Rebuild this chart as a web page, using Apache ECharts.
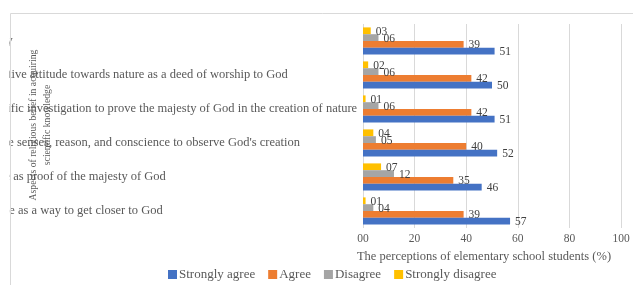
<!DOCTYPE html>
<html>
<head>
<meta charset="utf-8">
<script src="https://cdn.jsdelivr.net/npm/echarts@6/dist/echarts.min.js"></script>
<style>
  html, body { margin: 0; padding: 0; background: #fff; }
  #main { width: 633px; height: 285px; }
</style>
</head>
<body>
<div id="main"></div>
<script>
  // categories listed from bottom to top (order of the y axis)
  var categories = [
    'Science as a way to get closer to God',
    'Nature as proof of the majesty of God',
    "Use the senses, reason, and conscience to observe God's creation",
    'Scientific investigation to prove the majesty of God in the creation of nature',
    'Protective attitude towards nature as a deed of worship to God',
    'Inquiry'
  ];
  var seriesNames = ['Strongly agree', 'Agree', 'Disagree', 'Strongly disagree'];
  var stronglyAgree = [57, 46, 52, 51, 50, 51];
  var agree = [39, 35, 40, 42, 42, 39];
  var disagree = [4, 12, 5, 6, 6, 6];
  var stronglyDisagree = [1, 7, 4, 1, 2, 3];
  var xTicks = [0, 20, 40, 60, 80, 100];
  var colors = ['#4472C4', '#ED7D31', '#A5A5A5', '#FFC000'];

  var font = '"Liberation Serif", "DejaVu Serif", serif';
  function pad2(v) { return (v < 10 ? '0' : '') + v; }

  var myChart = echarts.init(document.getElementById('main'));

  function makeSeries(name, data, i) {
    return {
      name: name,
      type: 'bar',
      data: data,
      barGap: '0%',
      barCategoryGap: '20%',
      itemStyle: { color: colors[i] },
      label: {
        show: true,
        position: 'right',
        distance: 5,
        offset: [0, 1],
        color: '#404040',
        fontFamily: font,
        fontSize: 11.5,
        formatter: function (p) { return pad2(p.value); }
      }
    };
  }

  myChart.setOption({
    animation: false,
    color: colors,
    grid: { left: 363, right: 12, top: 24, bottom: 57, containLabel: false, outerBoundsMode: 'none' },
    legend: {
      data: seriesNames,
      left: 168,
      top: 268,
      padding: 0,
      itemWidth: 9,
      itemHeight: 9,
      itemGap: 13,
      icon: 'rect',
      textStyle: { color: '#595959', fontFamily: font, fontSize: 13, padding: [0, 0, 0, -3] }
    },
    xAxis: {
      type: 'value',
      min: 0,
      max: 100,
      interval: 20,
      axisLine: { show: false },
      axisTick: { show: false },
      axisLabel: {
        color: '#595959', fontFamily: font, fontSize: 11.5, margin: 5,
        formatter: function (v) { return xTicks.indexOf(v) >= 0 ? pad2(v) : ''; }
      },
      splitLine: { show: true, lineStyle: { color: '#d9d9d9', width: 1 } },
      name: 'The perceptions of elementary school students (%)',
      nameLocation: 'middle',
      nameGap: 20,
      nameTextStyle: { color: '#595959', fontFamily: font, fontSize: 12.5, padding: [0, 16, 0, 0] }
    },
    yAxis: {
      type: 'category',
      data: categories,
      axisLine: { show: false },
      axisTick: { show: false },
      splitLine: { show: false },
      axisLabel: {
        align: 'left',
        margin: 387,
        color: '#595959',
        fontFamily: font,
        fontSize: 12.5
      }
    },
    graphic: [
      {
        type: 'rect',
        z: 100,
        shape: { x: 0, y: 0, width: 9.5, height: 285 },
        style: { fill: '#fff' }
      },
      {
        type: 'rect',
        z: 101,
        shape: { x: 10.5, y: 13.5, width: 700, height: 400 },
        style: { fill: null, stroke: '#d9d9d9', lineWidth: 1 }
      },
      {
        type: 'text',
        z: 102,
        x: 40,
        y: 125,
        rotation: Math.PI / 2,
        scaleX: 0.88,
        style: {
          text: 'Aspects of religious belief in acquiring\nscientific knowledge',
          align: 'center',
          verticalAlign: 'middle',
          fill: '#595959',
          font: '11px ' + font,
          lineHeight: 14
        }
      }
    ],
    // first series is drawn at the top of each band, so go from strongly disagree down
    series: [
      makeSeries(seriesNames[3], stronglyDisagree, 3),
      makeSeries(seriesNames[2], disagree, 2),
      makeSeries(seriesNames[1], agree, 1),
      makeSeries(seriesNames[0], stronglyAgree, 0)
    ]
  });
</script>
</body>
</html>
